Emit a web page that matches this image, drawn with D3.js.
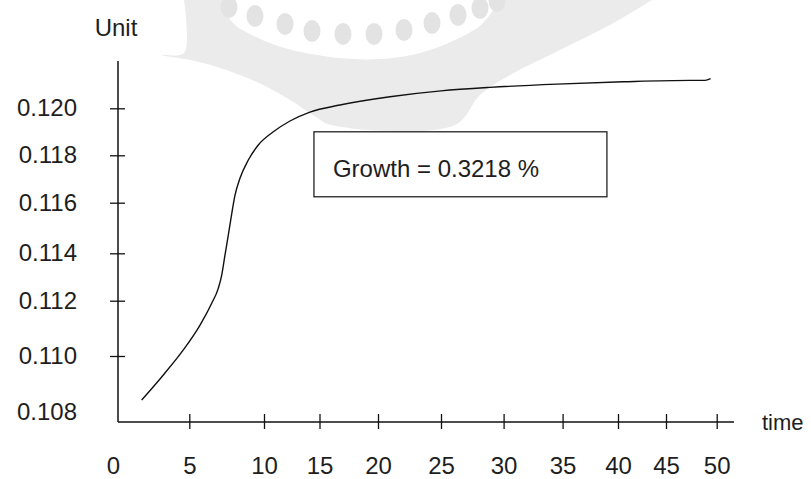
<!DOCTYPE html>
<html>
<head>
<meta charset="utf-8">
<script src="https://cdn.jsdelivr.net/npm/d3@7"></script>
<style>
  html, body { margin: 0; padding: 0; background: #fff; }
  svg { display: block; }
  text { font-family: "Liberation Sans", Arial, sans-serif; fill: #1e1e1e; }
</style>
</head>
<body>
<svg id="chart" width="811" height="479"></svg>
<script>
// ---------- data ----------
const xTickValues = [0, 5, 10, 15, 20, 25, 30, 35, 40, 45, 50];
const yTickValues = [0.108, 0.110, 0.112, 0.114, 0.116, 0.118, 0.120];
const time  = [1.66, 3.18, 4.58, 5.72, 6.50, 6.94, 7.17, 7.39, 7.61, 7.79, 8.06, 8.39, 8.95, 9.62,
               10.84, 12.34, 14.14, 16.75, 20.95, 25.0, 28.91, 34.5, 40.55, 47.37, 48.85, 49.4];
const value = [0.10842, 0.10932, 0.11022, 0.11112, 0.11191, 0.11252, 0.11308, 0.11393, 0.11472,
               0.11538, 0.11632, 0.11703, 0.11780, 0.11844, 0.11900, 0.11946, 0.11984, 0.12014,
               0.12049, 0.12074, 0.12089, 0.12103, 0.12113, 0.12119, 0.12119, 0.12126];
const annotationText = "Growth = 0.3218 %";
const annotationX = [14.5, 39.0];
const annotationY = [0.11625, 0.1190];
const xTitle = "time";
const yTitle = "Unit";

// ---------- layout (hand-drawn axis: uneven tick spacing) ----------
const xTickPx = [118, 189.3, 264, 319.5, 378, 441, 503.6, 562.6, 618, 666, 716.7];
const yTickPx = [411.7, 356, 300.7, 253.3, 202.7, 155.3, 108.3];
const axisBottomPx = 422, axisTopPx = 61, axisRightPx = 734;
const FONT = 24;

const svg = d3.select("#chart");

// ---------- background watermark (decorative) ----------
const wmBand = [[184,0],[184,53],[162,55],[190,60],[217,67],[259,83],[290,100],[316,117],[331,125],
                [455,125],[480,95],[510,75],[560,50],[610,25],[652,0]];
const wmBowl = [[222,0],[232,22],[258,38],[292,50],[340,58],[380,59],[420,53],[455,40],[482,24],[500,0]];
const wmDots = [[229,7],[255,16],[285,24],[312,31],[343,34],[374,34],[404,30],[432,23],[458,15],[480,8],[497,1]];
const wm = svg.append("g").attr("class", "watermark");
const smooth = d3.line().curve(d3.curveCatmullRom);
wm.append("path").attr("d", smooth(wmBand) + "Z").attr("fill", "#ebebeb");
wm.append("path").attr("d", smooth(wmBowl) + "Z").attr("fill", "#ffffff");
wm.selectAll("ellipse").data(wmDots).join("ellipse")
  .attr("cx", d => d[0]).attr("cy", d => d[1]).attr("rx", 8.5).attr("ry", 11)
  .attr("fill", "#e3e3e3");

// ---------- scales ----------
const x = d3.scaleLinear().domain(xTickValues).range(xTickPx);
const y = d3.scaleLinear().domain(yTickValues).range(yTickPx);

// ---------- axes lines ----------
svg.append("line").attr("x1", x(0)).attr("x2", x(0)).attr("y1", axisTopPx).attr("y2", axisBottomPx)
  .attr("stroke", "#111").attr("stroke-width", 1.5);
svg.append("line").attr("x1", x(0)).attr("x2", axisRightPx).attr("y1", axisBottomPx).attr("y2", axisBottomPx)
  .attr("stroke", "#111").attr("stroke-width", 1.5);

// y axis ticks & labels
const yAxisG = svg.append("g").attr("transform", `translate(${x(0)},0)`)
  .call(d3.axisLeft(y).tickValues(yTickValues).tickFormat(d3.format(".3f")).tickSize(0).tickPadding(41));
yAxisG.select(".domain").remove();
yAxisG.selectAll(".tick line")
  .attr("x1", -8).attr("x2", 7).attr("stroke", "#111").attr("stroke-width", 1.3)
  .style("display", (d, i) => i === 0 ? "none" : null);
yAxisG.selectAll(".tick text")
  .attr("font-size", FONT).attr("fill", "#1e1e1e");
yAxisG.attr("font-family", null).attr("font-size", null);

// x axis ticks & labels
const xAxisG = svg.append("g").attr("transform", `translate(0,${axisBottomPx})`)
  .call(d3.axisBottom(x).tickValues(xTickValues).tickFormat(d3.format("d")).tickSize(0).tickPadding(34.6));
xAxisG.select(".domain").remove();
xAxisG.selectAll(".tick line")
  .attr("y1", -8).attr("y2", 7).attr("stroke", "#111").attr("stroke-width", 1.3)
  .style("display", (d, i) => i === 0 ? "none" : null);
xAxisG.selectAll(".tick text")
  .attr("font-size", FONT).attr("fill", "#1e1e1e")
  .attr("dx", (d, i) => i === 0 ? -5 : 0);
xAxisG.attr("font-family", null).attr("font-size", null);

// axis titles
svg.append("text").attr("x", x(0) - 2).attr("y", 36).attr("text-anchor", "middle")
  .attr("font-size", FONT).text(yTitle);
svg.append("text").attr("x", 762).attr("y", axisBottomPx + 8).attr("text-anchor", "start")
  .attr("font-size", 22).text(xTitle);

// ---------- curve ----------
const pts = time.map((t, i) => [t, value[i]]);
svg.append("path").datum(pts)
  .attr("fill", "none").attr("stroke", "#111").attr("stroke-width", 1.4)
  .attr("d", d3.line().x(d => x(d[0])).y(d => y(d[1])).curve(d3.curveMonotoneX));

// ---------- annotation box ----------
const bx0 = x(annotationX[0]), bx1 = x(annotationX[1]);
const by0 = y(annotationY[1]), by1 = y(annotationY[0]);
svg.append("rect").attr("x", bx0).attr("y", by0).attr("width", bx1 - bx0).attr("height", by1 - by0)
  .attr("fill", "#fff").attr("stroke", "#222").attr("stroke-width", 1.3);
svg.append("text").attr("x", bx0 + 19).attr("y", by0 + 45).attr("font-size", FONT).text(annotationText);
</script>
</body>
</html>
